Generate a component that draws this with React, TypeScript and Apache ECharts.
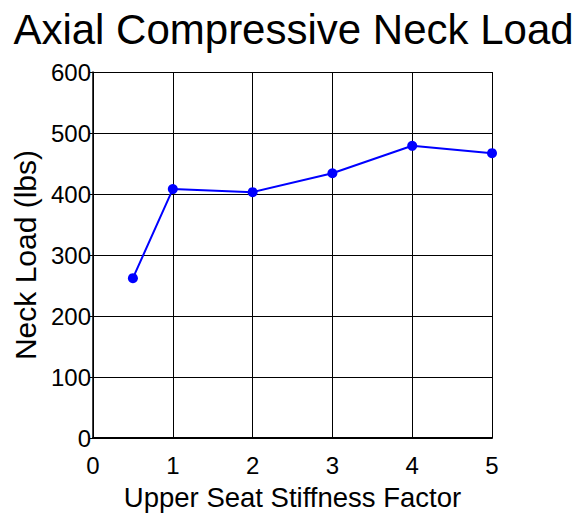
import React, { useEffect, useRef } from "react";
import * as echarts from "echarts";

const xValues = [0.5, 1, 2, 3, 4, 5];
const neckLoad = [262, 408, 403, 434, 479, 467];
const titleText = "Axial Compressive Neck Load";
const xAxisName = "Upper Seat Stiffness Factor";
const yAxisName = "Neck Load (lbs)";

export default function App() {
  const ref = useRef<HTMLDivElement>(null);
  useEffect(() => {
    if (!ref.current) return;
    const chart = echarts.init(ref.current, undefined, { renderer: "svg" });
    const font = "Arial";
    chart.setOption({
      animation: false,
      backgroundColor: "#ffffff",
      title: {
        text: titleText,
        left: "center",
        top: 3,
        textStyle: { fontFamily: font, fontSize: 42, fontWeight: "normal", color: "#000" },
      },
      grid: { left: 93, right: 95, top: 72, bottom: 78, containLabel: false },
      xAxis: {
        type: "value",
        min: 0,
        max: 5,
        interval: 1,
        name: xAxisName,
        nameLocation: "middle",
        nameGap: 45,
        nameTextStyle: { fontFamily: font, fontSize: 27.5, color: "#000" },
        axisLine: { lineStyle: { color: "#000", width: 2 } },
        axisTick: { show: false },
        axisLabel: { fontFamily: font, fontSize: 24, color: "#000", margin: 15 },
        splitLine: { show: true, lineStyle: { color: "#000", width: 1 } },
      },
      yAxis: {
        type: "value",
        min: 0,
        max: 600,
        interval: 100,
        name: yAxisName,
        nameLocation: "middle",
        nameGap: 53,
        nameTextStyle: { fontFamily: font, fontSize: 30, color: "#000" },
        axisLine: { show: true, lineStyle: { color: "#000", width: 1.5 } },
        axisTick: { show: true, length: 3, lineStyle: { color: "#000", width: 1 } },
        axisLabel: { fontFamily: font, fontSize: 24, color: "#000", margin: 2 },
        splitLine: { show: true, lineStyle: { color: "#000", width: 1 } },
      },
      series: [
        {
          type: "line",
          data: xValues.map((x, i) => [x, neckLoad[i]]),
          symbol: "circle",
          symbolSize: 10,
          itemStyle: { color: "#0000ff" },
          lineStyle: { color: "#0000ff", width: 2 },
        },
      ],
    });
    return () => chart.dispose();
  }, []);
  return (
    <div
      ref={ref}
      style={{ position: "fixed", left: 0, top: 0, width: 587, height: 516, background: "#fff" }}
    />
  );
}
